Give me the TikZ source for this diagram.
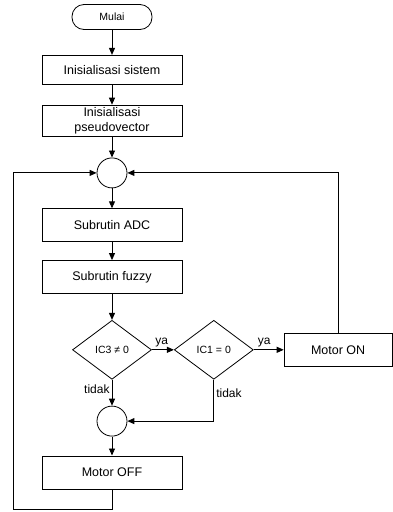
\documentclass[tikz,border=0pt]{standalone}
\usepackage{fontspec}
\setmainfont{Liberation Sans}
\usepackage{tikz}
\usetikzlibrary{
  arrows.meta,
  positioning,
  shapes.geometric
}

\begin{document}
\begin{tikzpicture}[
  x=1pt, y=1pt,
  box/.style={draw, line width=0.8pt, align=center, minimum width=140pt, minimum height=31pt, inner sep=2pt, font=\fontsize{12.5}{14.5}\selectfont},
  term/.style={draw, line width=0.8pt, rounded corners=12pt, minimum width=80pt, minimum height=25pt, font=\fontsize{10.5}{12}\selectfont},
  junc/.style={draw, line width=0.8pt, circle, minimum size=30pt, inner sep=0pt},
  dec/.style={draw, line width=0.8pt, diamond, aspect=1.34, minimum width=79pt, minimum height=59pt, inner sep=0pt, font=\fontsize{10.5}{12}\selectfont},
  lbl/.style={font=\fontsize{12}{14}\selectfont, inner sep=2pt},
  arr/.style={-{Triangle[length=7pt,width=6pt]}, line width=0.9pt}
]
\useasboundingbox (0,0) rectangle (392,-512);

% Main column
\node[term] (mulai) at (112,-17) {Mulai};
\node[box, minimum height=29pt, below=25pt of mulai] (init) {Inisialisasi sistem};
\node[box, below=20pt of init] (pseudo) {Inisialisasi\\pseudovector};
\node[junc, below=21pt of pseudo] (j1) {};
\node[box, minimum height=33pt, below=20pt of j1] (adc) {Subrutin ADC};
\node[box, minimum height=33pt, below=18pt of adc] (fuzzy) {Subrutin fuzzy};

% Decisions
\node[dec, below=26pt of fuzzy] (ic3) {IC3 ≠ 0};
\node[dec, right=22pt of ic3] (ic1) {IC1 = 0};
\node[box, minimum width=108pt, minimum height=33pt, right=30pt of ic1] (mon) {Motor ON};

% Motor off branch
\node[junc, below=26pt of ic3] (j2) {};
\node[box, minimum height=33pt, below=19pt of j2] (moff) {Motor OFF};

% Arrows
\draw[arr] (mulai) -- (init);
\draw[arr] (init) -- (pseudo);
\draw[arr] (pseudo) -- (j1);
\draw[arr] (j1) -- (adc);
\draw[arr] (adc) -- (fuzzy);
\draw[arr] (fuzzy) -- (ic3);
\draw[arr] (ic3) -- node[lbl, above, pos=0.45] {ya} (ic1);
\draw[arr] (ic1) -- node[lbl, above, pos=0.35] {ya} (mon);
\draw[arr] (ic3) -- node[lbl, left, pos=0.35] {tidak} (j2);
\draw[arr] (ic1.south) |- node[lbl, right, pos=0.16] {tidak} (j2);
\draw[arr] (j2) -- (moff);

% Loops back
\draw[arr] (mon) |- (j1);
\draw[arr] (moff.south) |- ++(-99,-20) |- (j1);

\end{tikzpicture}
\end{document}
